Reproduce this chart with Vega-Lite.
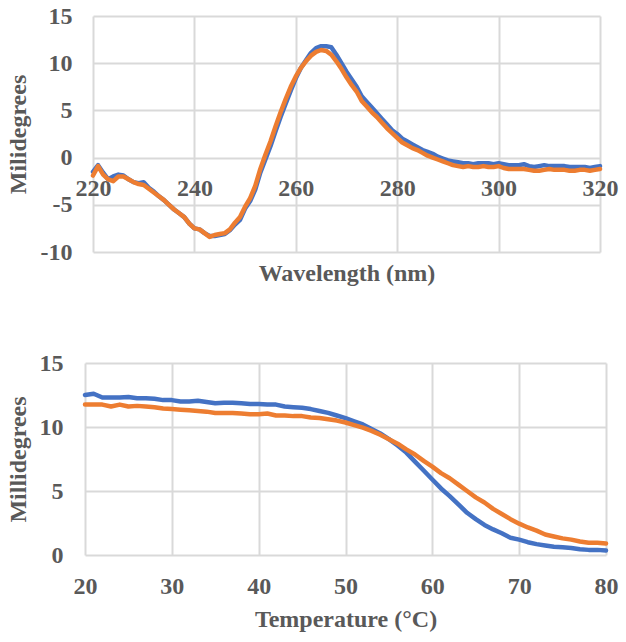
{
  "$schema": "https://vega.github.io/schema/vega-lite/v6.json",
  "padding": {"left": 6, "top": 4, "right": 5, "bottom": 5},
  "background": "white",
  "config": {
    "font": "Liberation Serif",
    "view": {"stroke": null},
    "axis": {
      "labelFont": "Liberation Serif",
      "labelFontWeight": "bold",
      "labelFontSize": 24,
      "labelColor": "#595959",
      "labelFlush": false,
      "labelOverlap": false,
      "labelExpr": "'' + datum.value",
      "titleFont": "Liberation Serif",
      "titleFontWeight": "bold",
      "titleFontSize": 24,
      "titleColor": "#595959",
      "gridColor": "#d9d9d9",
      "gridWidth": 2,
      "gridOpacity": 1,
      "domain": false,
      "ticks": false,
      "tickSize": 0
    },
    "line": {"strokeWidth": 4.5, "strokeCap": "round", "strokeJoin": "round"}
  },
  "datasets": {
    "cd": [
      {"wl":220,"s1":-1.5,"s2":-1.9},{"wl":221,"s1":-0.8,"s2":-0.9},{"wl":222,"s1":-1.6,"s2":-1.8},
      {"wl":223,"s1":-2.3,"s2":-2.3},{"wl":224,"s1":-2.0,"s2":-2.5},{"wl":225,"s1":-1.8,"s2":-2.0},
      {"wl":226,"s1":-1.9,"s2":-2.0},{"wl":227,"s1":-2.3,"s2":-2.3},{"wl":228,"s1":-2.6,"s2":-2.6},
      {"wl":229,"s1":-2.7,"s2":-2.8},{"wl":230,"s1":-2.6,"s2":-2.9},{"wl":231,"s1":-3.2,"s2":-3.3},
      {"wl":232,"s1":-3.6,"s2":-3.7},{"wl":233,"s1":-4.1,"s2":-4.1},{"wl":234,"s1":-4.5,"s2":-4.5},
      {"wl":235,"s1":-5.0,"s2":-5.0},{"wl":236,"s1":-5.5,"s2":-5.5},{"wl":237,"s1":-5.9,"s2":-5.9},
      {"wl":238,"s1":-6.3,"s2":-6.3},{"wl":239,"s1":-7.0,"s2":-7.0},{"wl":240,"s1":-7.5,"s2":-7.5},
      {"wl":241,"s1":-7.6,"s2":-7.6},{"wl":242,"s1":-8.0,"s2":-8.0},{"wl":243,"s1":-8.3,"s2":-8.4},
      {"wl":244,"s1":-8.3,"s2":-8.2},{"wl":245,"s1":-8.2,"s2":-8.1},{"wl":246,"s1":-8.1,"s2":-8.0},
      {"wl":247,"s1":-7.7,"s2":-7.6},{"wl":248,"s1":-7.1,"s2":-6.9},{"wl":249,"s1":-6.6,"s2":-6.3},
      {"wl":250,"s1":-5.4,"s2":-5.2},{"wl":251,"s1":-4.6,"s2":-4.3},{"wl":252,"s1":-3.4,"s2":-3.0},
      {"wl":253,"s1":-1.6,"s2":-1.2},{"wl":254,"s1":-0.2,"s2":0.3},{"wl":255,"s1":1.2,"s2":1.7},
      {"wl":256,"s1":2.8,"s2":3.3},{"wl":257,"s1":4.3,"s2":4.8},{"wl":258,"s1":5.7,"s2":6.2},
      {"wl":259,"s1":7.1,"s2":7.5},{"wl":260,"s1":8.4,"s2":8.6},{"wl":261,"s1":9.5,"s2":9.5},
      {"wl":262,"s1":10.3,"s2":10.2},{"wl":263,"s1":11.1,"s2":10.8},{"wl":264,"s1":11.6,"s2":11.2},
      {"wl":265,"s1":11.8,"s2":11.4},{"wl":266,"s1":11.8,"s2":11.3},{"wl":267,"s1":11.7,"s2":10.9},
      {"wl":268,"s1":10.9,"s2":10.2},{"wl":269,"s1":10.0,"s2":9.4},{"wl":270,"s1":9.1,"s2":8.5},
      {"wl":271,"s1":8.3,"s2":7.7},{"wl":272,"s1":7.5,"s2":7.0},{"wl":273,"s1":6.5,"s2":6.0},
      {"wl":274,"s1":5.9,"s2":5.4},{"wl":275,"s1":5.3,"s2":4.8},{"wl":276,"s1":4.7,"s2":4.3},
      {"wl":277,"s1":4.1,"s2":3.7},{"wl":278,"s1":3.5,"s2":3.1},{"wl":279,"s1":2.9,"s2":2.6},
      {"wl":280,"s1":2.5,"s2":2.1},{"wl":281,"s1":2.0,"s2":1.6},{"wl":282,"s1":1.7,"s2":1.3},
      {"wl":283,"s1":1.4,"s2":1.0},{"wl":284,"s1":1.1,"s2":0.8},{"wl":285,"s1":0.8,"s2":0.5},
      {"wl":286,"s1":0.6,"s2":0.2},{"wl":287,"s1":0.4,"s2":0.0},{"wl":288,"s1":0.1,"s2":-0.2},
      {"wl":289,"s1":-0.1,"s2":-0.4},{"wl":290,"s1":-0.3,"s2":-0.6},{"wl":291,"s1":-0.4,"s2":-0.8},
      {"wl":292,"s1":-0.5,"s2":-0.9},{"wl":293,"s1":-0.6,"s2":-1.0},{"wl":294,"s1":-0.6,"s2":-0.9},
      {"wl":295,"s1":-0.7,"s2":-1.0},{"wl":296,"s1":-0.6,"s2":-1.0},{"wl":297,"s1":-0.6,"s2":-0.9},
      {"wl":298,"s1":-0.6,"s2":-1.0},{"wl":299,"s1":-0.7,"s2":-1.0},{"wl":300,"s1":-0.6,"s2":-0.9},
      {"wl":301,"s1":-0.7,"s2":-1.1},{"wl":302,"s1":-0.8,"s2":-1.2},{"wl":303,"s1":-0.8,"s2":-1.2},
      {"wl":304,"s1":-0.8,"s2":-1.2},{"wl":305,"s1":-0.7,"s2":-1.2},{"wl":306,"s1":-0.9,"s2":-1.3},
      {"wl":307,"s1":-1.0,"s2":-1.4},{"wl":308,"s1":-0.9,"s2":-1.4},{"wl":309,"s1":-0.8,"s2":-1.3},
      {"wl":310,"s1":-0.9,"s2":-1.2},{"wl":311,"s1":-0.9,"s2":-1.3},{"wl":312,"s1":-0.9,"s2":-1.3},
      {"wl":313,"s1":-0.9,"s2":-1.3},{"wl":314,"s1":-1.0,"s2":-1.4},{"wl":315,"s1":-1.0,"s2":-1.4},
      {"wl":316,"s1":-1.0,"s2":-1.3},{"wl":317,"s1":-1.0,"s2":-1.3},{"wl":318,"s1":-1.1,"s2":-1.4},
      {"wl":319,"s1":-1.0,"s2":-1.3},{"wl":320,"s1":-0.9,"s2":-1.2}
    ],
    "melt": [
      {"t":20,"s1":12.5,"s2":11.75},{"t":21,"s1":12.6,"s2":11.75},{"t":22,"s1":12.3,"s2":11.75},
      {"t":23,"s1":12.3,"s2":11.6},{"t":24,"s1":12.3,"s2":11.75},{"t":25,"s1":12.35,"s2":11.6},
      {"t":26,"s1":12.25,"s2":11.65},{"t":27,"s1":12.25,"s2":11.6},{"t":28,"s1":12.2,"s2":11.55},
      {"t":29,"s1":12.1,"s2":11.45},{"t":30,"s1":12.1,"s2":11.4},{"t":31,"s1":12.0,"s2":11.35},
      {"t":32,"s1":12.0,"s2":11.3},{"t":33,"s1":12.05,"s2":11.25},{"t":34,"s1":11.95,"s2":11.2},
      {"t":35,"s1":11.85,"s2":11.1},{"t":36,"s1":11.9,"s2":11.1},{"t":37,"s1":11.9,"s2":11.1},
      {"t":38,"s1":11.85,"s2":11.05},{"t":39,"s1":11.8,"s2":11.0},{"t":40,"s1":11.8,"s2":11.0},
      {"t":41,"s1":11.75,"s2":11.05},{"t":42,"s1":11.75,"s2":10.9},{"t":43,"s1":11.6,"s2":10.9},
      {"t":44,"s1":11.55,"s2":10.85},{"t":45,"s1":11.5,"s2":10.85},{"t":46,"s1":11.4,"s2":10.75},
      {"t":47,"s1":11.25,"s2":10.7},{"t":48,"s1":11.1,"s2":10.6},{"t":49,"s1":10.9,"s2":10.5},
      {"t":50,"s1":10.7,"s2":10.35},{"t":51,"s1":10.45,"s2":10.15},{"t":52,"s1":10.2,"s2":9.95},
      {"t":53,"s1":9.85,"s2":9.7},{"t":54,"s1":9.5,"s2":9.4},{"t":55,"s1":9.05,"s2":9.05},
      {"t":56,"s1":8.55,"s2":8.7},{"t":57,"s1":8.0,"s2":8.25},{"t":58,"s1":7.3,"s2":7.85},
      {"t":59,"s1":6.6,"s2":7.35},{"t":60,"s1":5.9,"s2":6.9},{"t":61,"s1":5.2,"s2":6.4},
      {"t":62,"s1":4.6,"s2":6.0},{"t":63,"s1":3.95,"s2":5.5},{"t":64,"s1":3.3,"s2":5.0},
      {"t":65,"s1":2.8,"s2":4.5},{"t":66,"s1":2.35,"s2":4.1},{"t":67,"s1":2.0,"s2":3.6},
      {"t":68,"s1":1.7,"s2":3.2},{"t":69,"s1":1.35,"s2":2.8},{"t":70,"s1":1.2,"s2":2.45},
      {"t":71,"s1":1.0,"s2":2.15},{"t":72,"s1":0.85,"s2":1.9},{"t":73,"s1":0.75,"s2":1.6},
      {"t":74,"s1":0.65,"s2":1.45},{"t":75,"s1":0.6,"s2":1.3},{"t":76,"s1":0.55,"s2":1.2},
      {"t":77,"s1":0.45,"s2":1.05},{"t":78,"s1":0.4,"s2":0.95},{"t":79,"s1":0.4,"s2":0.95},
      {"t":80,"s1":0.35,"s2":0.9}
    ]
  },
  "vconcat": [
    {
      "width": 515,
      "height": 236,
      "data": {"name": "cd"},
      "transform": [{"fold": ["s1", "s2"], "as": ["series", "value"]}],
      "mark": {"type": "line"},
      "encoding": {
        "x": {
          "field": "wl", "type": "quantitative",
          "scale": {"domain": [220, 320], "nice": false, "zero": false, "range": [8, 515]},
          "axis": {"values": [220, 240, 260, 280, 300, 320], "offset": -93, "labelPadding": 17,
                   "title": "Wavelength (nm)", "titleY": 121, "titleBaseline": "alphabetic"}
        },
        "y": {
          "field": "value", "type": "quantitative",
          "scale": {"domain": [-10, 15], "nice": false, "zero": false},
          "axis": {"values": [-10, -5, 0, 5, 10, 15], "labelPadding": 13, "titlePadding": 10,
                   "title": "Milidegrees"}
        },
        "color": {
          "field": "series", "type": "nominal",
          "scale": {"domain": ["s1", "s2"], "range": ["#4472C4", "#ED7D31"]},
          "legend": null
        }
      }
    },
    {
      "width": 521,
      "height": 192,
      "data": {"name": "melt"},
      "transform": [{"fold": ["s1", "s2"], "as": ["series", "value"]}],
      "mark": {"type": "line"},
      "encoding": {
        "x": {
          "field": "t", "type": "quantitative",
          "scale": {"domain": [20, 80], "nice": false, "zero": false},
          "axis": {"values": [20, 30, 40, 50, 60, 70, 80], "labelPadding": 19,
                   "title": "Temperature (°C)", "titleY": 71, "titleBaseline": "alphabetic"}
        },
        "y": {
          "field": "value", "type": "quantitative",
          "scale": {"domain": [0, 15], "nice": false},
          "axis": {"values": [0, 5, 10, 15], "labelPadding": 22, "titlePadding": 9,
                   "title": "Millidegrees"}
        },
        "color": {
          "field": "series", "type": "nominal",
          "scale": {"domain": ["s1", "s2"], "range": ["#4472C4", "#ED7D31"]},
          "legend": null
        }
      }
    }
  ],
  "spacing": 66
}
